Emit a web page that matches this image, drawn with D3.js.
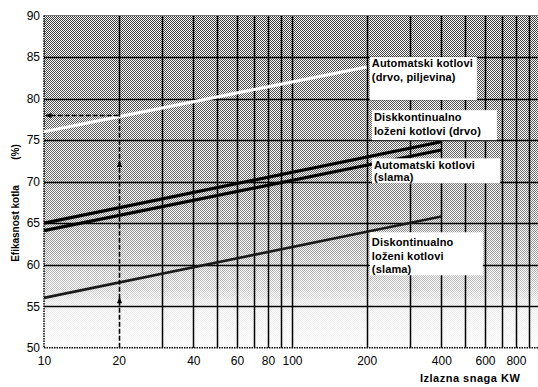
<!DOCTYPE html>
<html>
<head>
<meta charset="utf-8">
<script src="https://cdn.jsdelivr.net/npm/d3@7"></script>
<style>
  html, body { margin: 0; padding: 0; background: #fff; }
  svg { display: block; font-family: "Liberation Sans", Arial, sans-serif; }
</style>
</head>
<body>
<div id="chart"></div>
<script>
// values
const xTickLabels = [10, 20, 40, 60, 80, 100, 200, 400, 600, 800];
const xGrid = [20, 30, 40, 50, 60, 70, 80, 90, 100, 200, 300, 400, 500, 600, 700, 800, 900];
const yTicks = [50, 55, 60, 65, 70, 75, 80, 85, 90];
const yGrid = [55, 60, 65, 70, 75, 80, 85];

const drvoPiljevinaX = [10, 200];
const drvoPiljevinaY = [76, 83.8];
const diskDrvoX = [10, 400];
const diskDrvoY = [65, 74.8];
const autoSlamaX = [10, 400];
const autoSlamaY = [64.1, 73.8];
const diskSlamaX = [10, 400];
const diskSlamaY = [56, 65.8];

// reading example at 20 kW
const readX = 20;
const readY = 78;
const arrowUpY = [56.2, 72.6];

const labelLines = [
  ["Automatski kotlovi", "(drvo, piljevina)"],
  ["Diskkontinualno", "loženi kotlovi (drvo)"],
  ["Automatski kotlovi", "(slama)"],
  ["Diskontinualno", "loženi kotlovi", "(slama)"]
];
const labelX = [206, 210, 210, 206];
const labelY = [85.0, 78.6, 72.8, 63.9];

const width = 538, height = 387;
const margin = {left: 44, top: 15.5};
const plotRight = 540, plotBottom = 347.7;

const svg = d3.select("#chart").append("svg")
  .attr("width", width)
  .attr("height", height);

const x = d3.scaleLog().domain([10, 1000]).range([margin.left, plotRight]);
const y = d3.scaleLinear().domain([50, 90]).range([plotBottom, margin.top]);

const defs = svg.append("defs");

// dithered halftone look
const pat = defs.append("pattern")
  .attr("id", "checker")
  .attr("patternUnits", "userSpaceOnUse")
  .attr("width", 2).attr("height", 2);
pat.append("rect").attr("x", 0).attr("y", 0).attr("width", 1).attr("height", 1).attr("fill", "#000");
pat.append("rect").attr("x", 1).attr("y", 1).attr("width", 1).attr("height", 1).attr("fill", "#000");

const grad = defs.append("linearGradient")
  .attr("id", "shade")
  .attr("gradientUnits", "userSpaceOnUse")
  .attr("x1", 0).attr("x2", 0)
  .attr("y1", y(90)).attr("y2", y(50));
[[90, 0.78], [85, 0.72], [75, 0.64], [68, 0.54], [62, 0.4], [57, 0.24], [55, 0.09], [50, 0.03]]
  .forEach(([v, o]) => {
    grad.append("stop")
      .attr("offset", (y(v) - y(90)) / (y(50) - y(90)))
      .attr("stop-color", "#fff")
      .attr("stop-opacity", o);
  });

const mask = defs.append("mask").attr("id", "shadeMask");
mask.append("rect")
  .attr("x", x(10)).attr("y", y(90))
  .attr("width", width - x(10)).attr("height", y(50) - y(90))
  .attr("fill", "url(#shade)");

svg.append("rect")
  .attr("x", x(10)).attr("y", y(90))
  .attr("width", width - x(10)).attr("height", y(50) - y(90))
  .attr("fill", "#fff");

svg.append("rect")
  .attr("x", x(10)).attr("y", y(90))
  .attr("width", width - x(10)).attr("height", y(50) - y(90))
  .attr("fill", "url(#checker)")
  .attr("mask", "url(#shadeMask)");

// grid
svg.append("g")
  .selectAll("line")
  .data(xGrid)
  .enter()
  .append("line")
  .attr("x1", d => Math.round(x(d)) + 0.5)
  .attr("x2", d => Math.round(x(d)) + 0.5)
  .attr("y1", y(90))
  .attr("y2", d => d === readX ? y(readY) : y(50))
  .attr("stroke", "#000")
  .attr("stroke-width", 1.5);

svg.append("g")
  .selectAll("line")
  .data(yGrid)
  .enter()
  .append("line")
  .attr("x1", x(10))
  .attr("x2", width)
  .attr("y1", d => Math.round(y(d)) + 0.5)
  .attr("y2", d => Math.round(y(d)) + 0.5)
  .attr("stroke", "#000")
  .attr("stroke-width", 1.6);

// frame
svg.append("line")
  .attr("x1", x(10)).attr("x2", width)
  .attr("y1", y(90)).attr("y2", y(90))
  .attr("stroke", "#777").attr("stroke-width", 1);
svg.append("line")
  .attr("x1", x(10)).attr("x2", width)
  .attr("y1", y(50)).attr("y2", y(50))
  .attr("stroke", "#000").attr("stroke-width", 1.5)
  .attr("stroke-dasharray", "1.5,1");
svg.append("line")
  .attr("x1", x(10)).attr("x2", x(10))
  .attr("y1", y(90)).attr("y2", y(50))
  .attr("stroke", "#000").attr("stroke-width", 1.5)
  .attr("stroke-dasharray", "1.5,1");

// series
const line = d3.line().x(d => x(d[0])).y(d => y(d[1]));
const series = [
  {xs: drvoPiljevinaX, ys: drvoPiljevinaY, color: "#fff", w: 3.2},
  {xs: diskDrvoX, ys: diskDrvoY, color: "#000", w: 3.2},
  {xs: autoSlamaX, ys: autoSlamaY, color: "#000", w: 3.2},
  {xs: diskSlamaX, ys: diskSlamaY, color: "#1a1a1a", w: 2.6}
];
svg.append("g")
  .selectAll("path")
  .data(series)
  .enter()
  .append("path")
  .attr("d", s => line(s.xs.map((v, i) => [v, s.ys[i]])))
  .attr("fill", "none")
  .attr("stroke", s => s.color)
  .attr("stroke-width", s => s.w);

// reading arrows
svg.append("line")
  .attr("x1", Math.round(x(readX)) + 0.5).attr("x2", Math.round(x(readX)) + 0.5)
  .attr("y1", y(50)).attr("y2", y(readY))
  .attr("stroke", "#000").attr("stroke-width", 1.6)
  .attr("stroke-dasharray", "5,2");
svg.append("line")
  .attr("x1", x(readX)).attr("x2", x(10) + 4)
  .attr("y1", Math.round(y(readY)) + 0.5).attr("y2", Math.round(y(readY)) + 0.5)
  .attr("stroke", "#000").attr("stroke-width", 1.6)
  .attr("stroke-dasharray", "5,2");

svg.append("g")
  .selectAll("path")
  .data(arrowUpY)
  .enter()
  .append("path")
  .attr("d", d => {
    const cx = Math.round(x(readX)) + 0.5, cy = y(d);
    return `M${cx},${cy} L${cx - 2.5},${cy + 7} L${cx + 2.5},${cy + 7} Z`;
  })
  .attr("fill", "#000");
svg.append("path")
  .attr("d", () => {
    const cx = x(10) + 0.5, cy = Math.round(y(readY)) + 0.5;
    return `M${cx},${cy} L${cx + 7},${cy - 2.5} L${cx + 7},${cy + 2.5} Z`;
  })
  .attr("fill", "#000");

// label boxes
const boxW = [107, 125, 128, 113];
const boxH = [43, 30, 25, 43];
const firstBase = [10, 11, 11, 14];
const lineGap = [13.5, 14, 12, 13.5];

const labels = svg.append("g")
  .selectAll("g")
  .data(labelLines)
  .enter()
  .append("g")
  .attr("transform", (d, i) => `translate(${x(labelX[i])},${y(labelY[i])})`);

labels.append("rect")
  .attr("x", 0).attr("y", 0)
  .attr("width", (d, i) => boxW[i])
  .attr("height", (d, i) => boxH[i])
  .attr("fill", "#fff");

labels.each(function(d, i) {
  d3.select(this).selectAll("text")
    .data(d)
    .enter()
    .append("text")
    .attr("x", 2)
    .attr("y", (t, j) => firstBase[i] + j * lineGap[i])
    .attr("font-size", 11)
    .attr("font-weight", "bold")
    .attr("letter-spacing", 0.15)
    .attr("fill", "#000")
    .text(t => t);
});

// axes (labels only)
const xAxis = svg.append("g")
  .attr("transform", `translate(0,${plotBottom})`)
  .call(d3.axisBottom(x).tickValues(xTickLabels).tickSize(0).tickPadding(9).tickFormat(d3.format("d")));
xAxis.select(".domain").remove();
xAxis.selectAll("text").attr("font-size", 12).attr("fill", "#000")
  .attr("font-family", "Liberation Sans, Arial, sans-serif");

const yAxis = svg.append("g")
  .attr("transform", `translate(${margin.left},0)`)
  .call(d3.axisLeft(y).tickValues(yTicks).tickSize(0).tickPadding(4));
yAxis.select(".domain").remove();
yAxis.selectAll("text").attr("font-size", 12).attr("fill", "#000")
  .attr("font-family", "Liberation Sans, Arial, sans-serif");

// titles
svg.append("text")
  .attr("transform", "translate(19,223.5) rotate(-90)")
  .attr("text-anchor", "middle")
  .attr("font-size", 10)
  .attr("font-weight", "bold")
  .text("Efikasnost kotla");
svg.append("text")
  .attr("transform", "translate(19,152) rotate(-90)")
  .attr("text-anchor", "middle")
  .attr("font-size", 10)
  .attr("font-weight", "bold")
  .text("(%)");

svg.append("text")
  .attr("x", 420)
  .attr("y", 382)
  .attr("font-size", 11)
  .attr("font-weight", "bold")
  .attr("letter-spacing", 0.5)
  .text("Izlazna snaga KW");
</script>
</body>
</html>
